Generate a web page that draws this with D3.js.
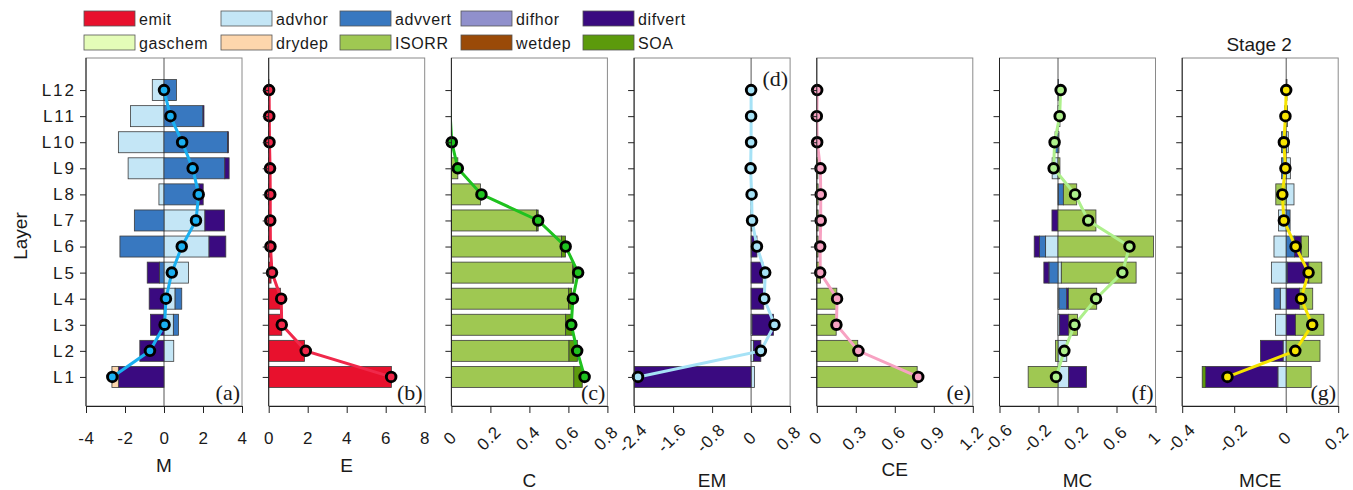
<!DOCTYPE html>
<html>
<head>
<meta charset="utf-8">
<script src="https://cdn.jsdelivr.net/npm/d3@7"></script>
<style>
  body { margin: 0; background: #fff; }
  text { font-family: "Liberation Sans", Arial, sans-serif; fill: #1a1a1a; }
</style>
</head>
<body>
<script>
// layers, bottom to top
const layers = ["L1", "L2", "L3", "L4", "L5", "L6", "L7", "L8", "L9", "L10", "L11", "L12"];
const processes = ["emit", "advhor", "advvert", "difhor", "difvert", "gaschem", "drydep", "ISORR", "wetdep", "SOA"];
const processColors = ["#e8112d", "#c4e6f6", "#3878c0", "#9090cc", "#3a0a80", "#e4fcb8", "#fdd6ac", "#9fc852", "#9a4a08", "#5c9a0c"];

// (a) M
const M_advhor  = [0, 0.5, 0.48, 0.57, 1.26, 2.31, 2.1, -0.26, -1.84, -2.34, -1.72, -0.6];
const M_advvert = [0, 0, 0.26, 0.34, -0.24, -2.26, -1.52, 1.81, 3.12, 3.26, 2.0, 0.64];
const M_difvert = [-2.34, -1.24, -0.69, -0.76, -0.62, 0.86, 1.0, 0.2, 0.22, 0.05, 0.05, 0];
const M_drydep  = [-0.33, 0, 0, 0, 0, 0, 0, 0, 0, 0, 0, 0];
const M_net     = [-2.65, -0.72, 0.03, 0.1, 0.4, 0.91, 1.64, 1.78, 1.47, 0.93, 0.33, 0.0];

// (b) E
const E_emit = [6.29, 1.84, 0.67, 0.6, 0.12, 0.06, 0.05, 0.05, 0.04, 0.03, 0.02, 0.01];
const E_net  = [6.28, 1.9, 0.67, 0.64, 0.17, 0.09, 0.08, 0.08, 0.07, 0.04, 0.03, 0.02];

// (c) C
const C_ISORR = [0.628, 0.603, 0.586, 0.6, 0.623, 0.565, 0.437, 0.149, 0.033, 0, 0, 0];
const C_SOA   = [0.043, 0.043, 0.035, 0.017, 0.005, 0.02, 0.008, 0, 0, 0, 0, 0];
const C_net   = [0.683, 0.645, 0.615, 0.623, 0.65, 0.586, 0.445, 0.154, 0.033, 0.002, -0.006, -0.012];

// (d) EM
const EM_advhor  = [0.07, 0.05, 0.02, 0, 0, 0.01, 0.01, 0, 0, 0, 0, 0];
const EM_difvert = [-2.39, 0.15, 0.44, 0.26, 0.24, 0.11, 0.01, 0.01, -0.01, 0, 0, 0];
const EM_net     = [-2.32, 0.2, 0.48, 0.27, 0.29, 0.12, 0.02, 0.01, -0.01, 0, 0, 0];

// (e) CE
const CE_ISORR = [0.772, 0.315, 0.149, 0.154, 0.028, 0.01, 0.01, 0.01, 0.008, 0, 0, 0];
const CE_net   = [0.78, 0.32, 0.151, 0.156, 0.026, 0.026, 0.03, 0.03, 0.028, 0.003, 0, 0.003];

// (f) MC
const MC_advhor  = [0.11, 0.09, 0.017, 0.01, 0.034, -0.127, 0, 0.005, -0.06, 0.01, 0.02, 0];
const MC_advvert = [0, 0, 0, 0.08, -0.093, -0.062, 0, 0.05, 0, -0.03, 0, 0.005];
const MC_difvert = [0.182, 0, 0.093, 0.017, -0.052, -0.055, -0.062, 0, 0, 0, 0, 0];
const MC_ISORR   = [-0.306, -0.025, 0.09, 0.29, 0.767, 0.98, 0.389, 0.137, 0.02, 0, 0, 0];
const MC_net     = [-0.02, 0.065, 0.17, 0.39, 0.66, 0.733, 0.31, 0.175, -0.045, -0.035, 0.017, 0.027];

// (g) MCE
const MCE_advhor  = [-0.032, -0.012, -0.041, -0.023, -0.057, -0.047, -0.03, 0.03, 0.016, 0.008, 0.005, 0.003];
const MCE_advvert = [0, 0, 0, -0.024, 0.004, 0.032, 0.015, 0, -0.018, -0.018, -0.006, 0];
const MCE_difvert = [-0.278, -0.087, 0.036, 0.051, 0.083, 0.026, 0, 0, 0, 0, 0, 0];
const MCE_ISORR   = [0.096, 0.13, 0.109, 0.051, 0.05, 0.028, 0, -0.04, 0, 0, 0, 0];
const MCE_SOA     = [-0.013, 0, 0, 0, 0, 0, 0, 0, 0, 0, 0, 0];
const MCE_net     = [-0.226, 0.035, 0.1, 0.057, 0.086, 0.036, -0.009, -0.015, -0.003, -0.009, -0.003, 0];

// x axes
const M_ticks   = [-4, -2, 0, 2, 4];
const E_ticks   = [0, 2, 4, 6, 8];
const C_ticks   = [0, 0.2, 0.4, 0.6, 0.8];
const EM_ticks  = [-2.4, -1.6, -0.8, 0, 0.8];
const CE_ticks  = [0, 0.3, 0.6, 0.9, 1.2];
const MC_ticks  = [-0.6, -0.2, 0.2, 0.6, 1];
const MCE_ticks = [-0.4, -0.2, 0, 0.2];

const panels = [
  {tag: "(a)", title: "M",   ticks: M_ticks,   net: M_net,   line: "#1aaff0", rot: false, zero: true,  tagTop: false, titleY: 472,
   parts: {advhor: M_advhor, advvert: M_advvert, difvert: M_difvert, drydep: M_drydep}},
  {tag: "(b)", title: "E",   ticks: E_ticks,   net: E_net,   line: "#f0284a", rot: false, zero: false, tagTop: false, titleY: 472,
   parts: {emit: E_emit}},
  {tag: "(c)", title: "C",   ticks: C_ticks,   net: C_net,   line: "#1fc21f", rot: true,  zero: false, tagTop: false, titleY: 487,
   parts: {ISORR: C_ISORR, SOA: C_SOA}},
  {tag: "(d)", title: "EM",  ticks: EM_ticks,  net: EM_net,  line: "#a6e2f6", rot: true,  zero: true,  tagTop: true,  titleY: 487,
   parts: {advhor: EM_advhor, difvert: EM_difvert}},
  {tag: "(e)", title: "CE",  ticks: CE_ticks,  net: CE_net,  line: "#f7a2c2", rot: true,  zero: false, tagTop: false, titleY: 476,
   parts: {ISORR: CE_ISORR}},
  {tag: "(f)", title: "MC",  ticks: MC_ticks,  net: MC_net,  line: "#aef08c", rot: true,  zero: true,  tagTop: false, titleY: 487,
   parts: {advhor: MC_advhor, advvert: MC_advvert, difvert: MC_difvert, ISORR: MC_ISORR}},
  {tag: "(g)", title: "MCE", ticks: MCE_ticks, net: MCE_net, line: "#f6e400", rot: true,  zero: true,  tagTop: false, titleY: 487,
   parts: {advhor: MCE_advhor, advvert: MCE_advvert, difvert: MCE_difvert, ISORR: MCE_ISORR, SOA: MCE_SOA}}
];

const W = 1353, H = 490;
const plotTop = 58, plotBottom = 406, pw = 156;
const svg = d3.select("body").append("svg").attr("width", W).attr("height", H);

const y = d3.scaleLinear().domain([-0.115, 13.23]).range([plotBottom, plotTop]);
const barH = 21;
const stack = d3.stack().keys(processes).offset(d3.stackOffsetDiverging);

panels.forEach((p, i) => {
  const left = 86 + i * 182.7;
  const x = d3.scaleLinear().domain(d3.extent(p.ticks)).range([left, left + pw]);
  const rows = layers.map((l, j) => {
    const r = {layer: j + 1};
    processes.forEach(k => r[k] = p.parts[k] ? p.parts[k][j] : 0);
    return r;
  });
  const g = svg.append("g");

  g.append("rect")
    .attr("x", left).attr("y", plotTop)
    .attr("width", pw).attr("height", plotBottom - plotTop)
    .attr("fill", "#fff").attr("stroke", "#8a8a8a").attr("stroke-width", 1);

  if (p.zero) {
    g.append("line")
      .attr("x1", x(0)).attr("x2", x(0)).attr("y1", plotTop).attr("y2", plotBottom)
      .attr("stroke", "#555").attr("stroke-width", 1);
  }

  stack(rows).forEach((s, k) => {
    g.selectAll(null)
      .data(s.filter(d => d[1] !== d[0]))
      .enter().append("rect")
      .attr("x", d => x(Math.min(d[0], d[1])))
      .attr("width", d => Math.abs(x(d[1]) - x(d[0])))
      .attr("y", d => y(d.data.layer) - barH / 2)
      .attr("height", barH)
      .attr("fill", processColors[k])
      .attr("stroke", "#3c3c3c").attr("stroke-width", 0.8);
  });

  const clipId = "clip" + i;
  svg.append("clipPath").attr("id", clipId)
    .append("rect").attr("x", left).attr("y", plotTop).attr("width", pw).attr("height", plotBottom - plotTop);

  const pts = p.net.map((v, j) => ({v: v, layer: j + 1}));
  g.append("path")
    .datum(pts)
    .attr("clip-path", "url(#" + clipId + ")")
    .attr("fill", "none").attr("stroke", p.line).attr("stroke-width", 3)
    .attr("d", d3.line().x(d => x(d.v)).y(d => y(d.layer)));

  const dom = x.domain();
  g.selectAll(null)
    .data(pts.filter(d => d.v >= dom[0] && d.v <= dom[1]))
    .enter().append("circle")
    .attr("cx", d => x(d.v)).attr("cy", d => y(d.layer)).attr("r", 4.8)
    .attr("fill", p.line).attr("stroke", "#000").attr("stroke-width", 2.9);

  // bottom axis
  const xa = g.append("g")
    .attr("transform", "translate(0," + plotBottom + ")")
    .call(d3.axisBottom(x).tickValues(p.ticks).tickSize(7).tickSizeOuter(0).tickFormat(d => String(d)))
    .attr("font-size", null).attr("font-family", null).attr("color", "#222");
  xa.selectAll("text").style("font-size", "17px").attr("letter-spacing", "0.8px")
    .attr("fill", "#1a1a1a").attr("dy", null);
  if (p.rot) {
    xa.selectAll("text")
      .attr("y", 0)
      .attr("transform", "translate(-2,32) rotate(-45)")
      .attr("text-anchor", "middle")
      .attr("dy", "0.35em");
  } else {
    xa.selectAll("text").attr("y", 38);
  }

  // left axis
  const ya = g.append("g")
    .attr("transform", "translate(" + left + ",0)")
    .call(d3.axisLeft(y).tickValues(d3.range(1, 13)).tickSize(6).tickSizeOuter(0)
      .tickFormat(d => i === 0 ? layers[d - 1] : ""))
    .attr("font-size", null).attr("font-family", null).attr("color", "#222");
  ya.select(".domain").remove();
  ya.append("line").attr("x1", 0).attr("x2", 0).attr("y1", plotTop).attr("y2", plotBottom).attr("stroke", "#222");
  ya.selectAll("text").style("font-size", "17px").attr("fill", "#1a1a1a").attr("letter-spacing", "2px").attr("x", -10);

  g.append("text")
    .attr("x", left + pw - 2).attr("y", p.tagTop ? 86 : 400)
    .attr("text-anchor", "end")
    .style("font-family", "'Liberation Serif', 'Times New Roman', serif")
    .style("font-size", "22px")
    .text(p.tag);

  g.append("text")
    .attr("x", left + pw / 2).attr("y", p.titleY)
    .attr("text-anchor", "middle").style("font-size", "19px")
    .text(p.title);

  if (i === panels.length - 1) {
    g.append("text")
      .attr("x", left + pw / 2 - 1).attr("y", 51)
      .attr("text-anchor", "middle").style("font-size", "19px")
      .text("Stage 2");
  }
});

svg.append("text")
  .attr("transform", "translate(27,236) rotate(-90)")
  .attr("text-anchor", "middle").style("font-size", "19px")
  .text("Layer");

// legend, row-major in process order
const legX = [84, 221, 340, 461, 583];
const legY = [11, 35];
const leg = svg.append("g");
processes.forEach((k, j) => {
  const cx = legX[j % 5], cy = legY[Math.floor(j / 5)];
  leg.append("rect").attr("x", cx).attr("y", cy).attr("width", 51).attr("height", 15)
    .attr("fill", processColors[j]).attr("stroke", "#555").attr("stroke-width", 0.8);
  leg.append("text").attr("x", cx + 55).attr("y", cy + 14)
    .style("font-size", "16px").attr("letter-spacing", "0.6px").text(k);
});
</script>
</body>
</html>
